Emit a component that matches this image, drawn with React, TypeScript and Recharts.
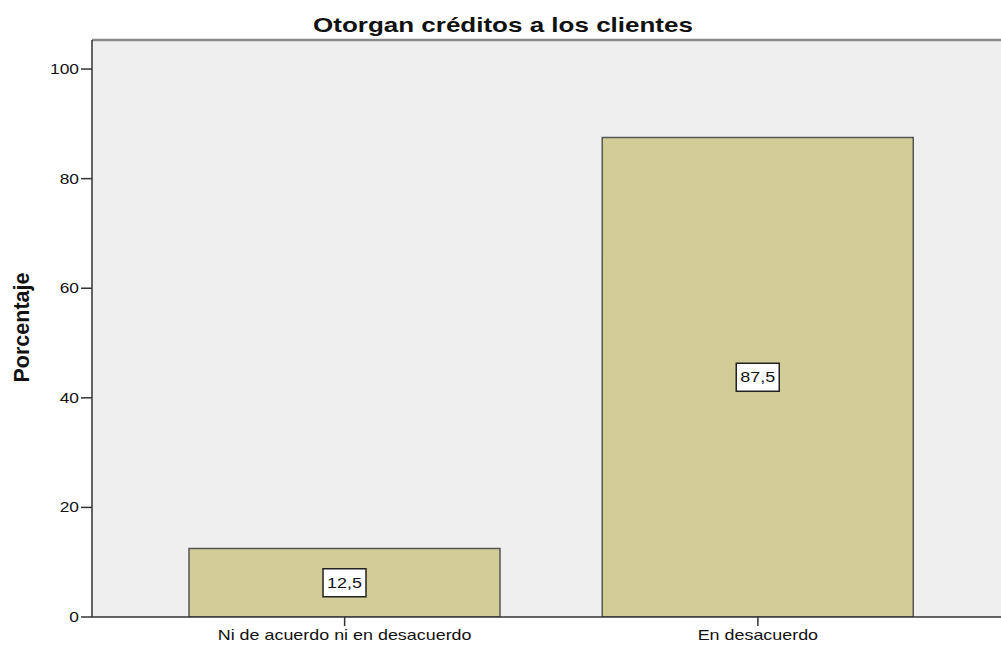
import React from "react";
import { BarChart, Bar, XAxis, YAxis, CartesianGrid, LabelList, ReferenceLine } from "recharts";

const categories = ["Ni de acuerdo ni en desacuerdo", "En desacuerdo"];
const percentages = [12.5, 87.5];
const yTicks = [0, 20, 40, 60, 80, 100];
const yMax = 105.3;
const title = "Otorgan créditos a los clientes";
const yLabel = "Porcentaje";

const data = categories.map((c, i) => ({ name: c, value: percentages[i] }));

const FONT = "Arial, 'Liberation Sans', sans-serif";
const SX = 1.28;

const XTick = (props: any) => {
  const { x, y, payload } = props;
  return (
    <g transform={`translate(${x},${y})`}>
      <text transform={`scale(${SX},1)`} textAnchor="middle" dy="0.71em" fontSize={14} fontFamily={FONT} fill="#111">
        {payload.value}
      </text>
    </g>
  );
};

const YTick = (props: any) => {
  const { x, y, payload } = props;
  return (
    <g transform={`translate(${x},${y})`}>
      <text transform={`scale(1.24,1)`} textAnchor="end" dy="0.355em" fontSize={14} fontFamily={FONT} fill="#111">
        {payload.value}
      </text>
    </g>
  );
};

const ValueLabel = (props: any) => {
  const { x, y, width, height, value } = props;
  const cx = x + width / 2;
  const cy = y + height / 2;
  const w = 43;
  const h = 28;
  return (
    <g>
      <rect x={cx - w / 2} y={cy - h / 2} width={w} height={h} fill="#ffffff" stroke="#222" strokeWidth={1.5} />
      <g transform={`translate(${cx},${cy})`}>
        <text transform={`scale(${SX},1)`} textAnchor="middle" dy="0.36em" fontSize={14} fontFamily={FONT} fill="#111">
          {String(value).replace(".", ",")}
        </text>
      </g>
    </g>
  );
};

export default function App() {
  return (
    <div style={{ position: "absolute", left: 0, top: 0, width: 1001, height: 646, overflow: "hidden", background: "#fff" }}>
      <BarChart width={1020} height={646} data={data} margin={{ top: 40, right: 9.5, bottom: 0, left: 0 }}>
        <CartesianGrid fill="#EFEFEF" horizontal={false} vertical={false} />
        <ReferenceLine y={yMax} stroke="#8a8a8a" strokeWidth={2.5} />
        <XAxis
          dataKey="name"
          height={29}
          padding={{ left: 46, right: 46 }}
          tickSize={9}
          tickMargin={4}
          tick={<XTick />}
          axisLine={{ stroke: "#333", strokeWidth: 1.5 }}
          tickLine={{ stroke: "#333", strokeWidth: 1.5 }}
        />
        <YAxis
          width={92}
          domain={[0, yMax]}
          ticks={yTicks}
          allowDataOverflow
          tickSize={11}
          tickMargin={2}
          tick={<YTick />}
          axisLine={{ stroke: "#333", strokeWidth: 1.5 }}
          tickLine={{ stroke: "#333", strokeWidth: 1.5 }}
        />
        <Bar dataKey="value" barSize={311} fill="#D2CD96" stroke="#555" strokeWidth={1.5} isAnimationActive={false}>
          <LabelList dataKey="value" content={<ValueLabel />} />
        </Bar>
        <text x={503} y={32} textAnchor="middle" fontSize={20} fontWeight="bold" fontFamily={FONT} fill="#111" transform={`translate(503,0) scale(1.3,1) translate(-503,0)`}>
          {title}
        </text>
        <g transform={`translate(28.5,327.5) rotate(-90)`}>
          <text x={0} y={0} textAnchor="middle" fontSize={21.5} fontWeight="bold" fontFamily={FONT} fill="#111">
            {yLabel}
          </text>
        </g>
      </BarChart>
    </div>
  );
}
